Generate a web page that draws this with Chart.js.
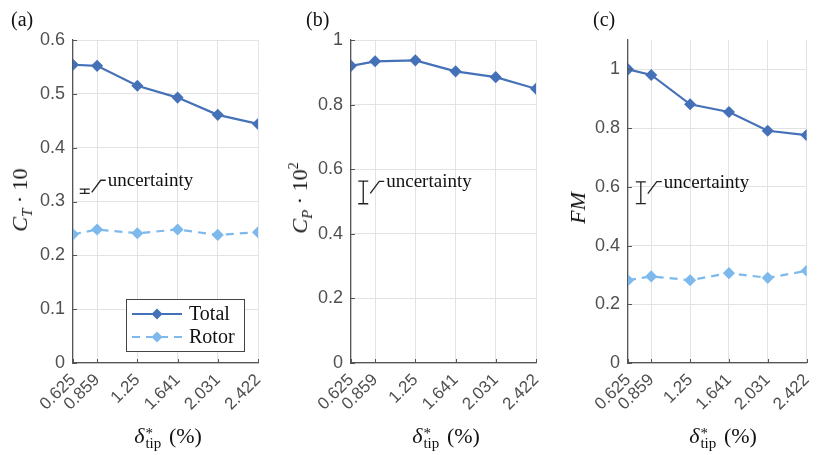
<!DOCTYPE html>
<html>
<head>
<meta charset="utf-8">
<script src="https://cdn.jsdelivr.net/npm/chart.js@4/dist/chart.umd.min.js"></script>
<style>
body { margin: 0; background: #fff; }
#wrap { position: relative; width: 828px; height: 455px; overflow: hidden; }
canvas { position: absolute; top: 0; }
.tex { position: absolute; font-family: "Liberation Serif", "DejaVu Serif", serif; font-size: 20px; color: #111; white-space: nowrap; line-height: 1; }
.ytitle { font-size: 22px; transform: translate(-50%, -50%) rotate(-90deg); }
.xtitle { font-size: 22px; transform: translateX(-50%); }
.ss { display: inline-block; position: relative; width: 19px; height: 10px; }
.ss .up { position: absolute; left: 1px; top: -7px; font-size: 15px; }
.ss .dn { position: absolute; left: 1px; top: 3px; font-size: 15px; }
sub { font-size: 15px; vertical-align: -5px; }
sup { font-size: 14px; vertical-align: 9px; }
</style>
</head>
<body>
<div id="wrap">
  <canvas id="chartA" width="280" height="455" style="left:0px"></canvas>
  <canvas id="chartB" width="280" height="455" style="left:280px"></canvas>
  <canvas id="chartC" width="268" height="455" style="left:560px"></canvas>

  <div class="tex" style="left:11px;top:9px">(a)</div>
  <div class="tex" style="left:306px;top:9px">(b)</div>
  <div class="tex" style="left:593px;top:9px">(c)</div>

  <div class="tex ytitle" style="left:22px;top:200px"><i>C</i><sub><i>T</i></sub> · 10</div>
  <div class="tex ytitle" style="left:301px;top:198px"><i>C</i><sub><i>P</i></sub> · 10<sup>2</sup></div>
  <div class="tex ytitle" style="left:578px;top:208px"><i>FM</i></div>

  <div class="tex xtitle" style="left:168px;top:425px"><i>δ</i><span class="ss"><span class="up">*</span><span class="dn">tip</span></span> (%)</div>
  <div class="tex xtitle" style="left:446px;top:425px"><i>δ</i><span class="ss"><span class="up">*</span><span class="dn">tip</span></span> (%)</div>
  <div class="tex xtitle" style="left:723px;top:425px"><i>δ</i><span class="ss"><span class="up">*</span><span class="dn">tip</span></span> (%)</div>
</div>
<script>
// x positions (tip gap, %) and tick labels
const xLabels = ['0.625', '0.859', '1.25', '1.641', '2.031', '2.422'];
const xVals = xLabels.map(Number);

// values
const ctTotal = [0.554, 0.552, 0.515, 0.493, 0.461, 0.444];
const ctRotor = [0.239, 0.248, 0.241, 0.248, 0.238, 0.243];
const cpTotal = [0.920, 0.934, 0.937, 0.903, 0.885, 0.849];
const fmTotal = [1.000, 0.981, 0.881, 0.855, 0.791, 0.776];
const fmRotor = [0.282, 0.295, 0.282, 0.306, 0.290, 0.314];

const ctTicks = [0, 0.1, 0.2, 0.3, 0.4, 0.5, 0.6];
const cpTicks = [0, 0.2, 0.4, 0.6, 0.8, 1];
const fmTicks = [0, 0.2, 0.4, 0.6, 0.8, 1];

// uncertainty bars: [x, centre, half height]
const ctUnc = [0.739, 0.319, 0.004];
const cpUnc = [0.744, 0.528, 0.035];
const fmUnc = [0.754, 0.580, 0.037];
const uncText = 'uncertainty';

const seriesNames = ['Total', 'Rotor'];
const totalColor = '#4571b8';
const rotorColor = '#7db9ec';

const pts = ys => ys.map((y, i) => ({ x: xVals[i], y: y }));

function totalSet(ys) {
    return {
        label: seriesNames[0], data: pts(ys),
        borderColor: totalColor, backgroundColor: totalColor,
        borderWidth: 2.2, pointStyle: 'rectRot', pointRadius: 4.5, pointHoverRadius: 4.5
    };
}
function rotorSet(ys) {
    return {
        label: seriesNames[1], data: pts(ys),
        borderColor: rotorColor, backgroundColor: rotorColor,
        borderWidth: 2.2, borderDash: [8, 6], pointStyle: 'rectRot', pointRadius: 4.5, pointHoverRadius: 4.5
    };
}

// short inward tick marks, matlab style
const innerTicks = {
    id: 'innerTicks',
    afterDraw(chart) {
        const a = chart.chartArea, c = chart.ctx;
        c.save();
        c.strokeStyle = '#555';
        c.lineWidth = 1;
        c.beginPath();
        chart.scales.x.ticks.forEach(t => {
            const x = Math.round(chart.scales.x.getPixelForValue(t.value)) + 0.5;
            c.moveTo(x, a.bottom); c.lineTo(x, a.bottom - 4);
        });
        chart.scales.y.ticks.forEach(t => {
            const y = Math.round(chart.scales.y.getPixelForValue(t.value)) + 0.5;
            c.moveTo(a.left, y); c.lineTo(a.left + 4, y);
        });
        c.stroke();
        c.restore();
    }
};

// error bar glyph with its leader line and label
const uncPlugin = {
    id: 'unc',
    afterDatasetsDraw(chart, args, opts) {
        if (!opts.bar) return;
        const [ux, uy, uh] = opts.bar;
        const xs = chart.scales.x, ys = chart.scales.y;
        const px = xs.getPixelForValue(ux), py = ys.getPixelForValue(uy);
        const top = ys.getPixelForValue(uy + uh), bot = ys.getPixelForValue(uy - uh);
        const c = chart.ctx;
        c.save();
        c.strokeStyle = '#222';
        c.lineWidth = 1.3;
        c.beginPath();
        c.moveTo(px, top); c.lineTo(px, bot);
        c.moveTo(px - 5, top); c.lineTo(px + 5, top);
        c.moveTo(px - 5, bot); c.lineTo(px + 5, bot);
        c.moveTo(px + 7, py + 1); c.lineTo(px + 16, py - 11); c.lineTo(px + 21, py - 11);
        c.stroke();
        c.fillStyle = '#111';
        c.font = '19px "Liberation Serif", serif';
        c.textBaseline = 'alphabetic';
        c.fillText(uncText, px + 23, py - 5);
        c.restore();
    }
};

// boxed legend in the lower right of the plot area
const boxLegend = {
    id: 'boxLegend',
    afterDatasetsDraw(chart, args, opts) {
        if (!opts.show) return;
        const a = chart.chartArea, c = chart.ctx;
        const w = 118, h = 52;
        const x0 = a.right - 14 - w, y0 = a.bottom - 12 - h;
        c.save();
        c.fillStyle = '#fff';
        c.fillRect(x0, y0, w, h);
        c.strokeStyle = '#444';
        c.lineWidth = 1;
        c.strokeRect(x0 + 0.5, y0 + 0.5, w, h);
        chart.data.datasets.forEach((ds, i) => {
            const y = y0 + 15 + i * 23;
            c.strokeStyle = ds.borderColor;
            c.lineWidth = ds.borderWidth;
            c.setLineDash(ds.borderDash || []);
            c.beginPath();
            c.moveTo(x0 + 6, y); c.lineTo(x0 + 56, y);
            c.stroke();
            c.setLineDash([]);
            c.fillStyle = ds.backgroundColor;
            c.beginPath();
            c.moveTo(x0 + 31, y - 5.5); c.lineTo(x0 + 36.5, y); c.lineTo(x0 + 31, y + 5.5); c.lineTo(x0 + 25.5, y);
            c.closePath();
            c.fill();
            c.fillStyle = '#111';
            c.font = '20px "Liberation Serif", serif';
            c.textBaseline = 'middle';
            c.fillText(ds.label, x0 + 63, y + 1);
        });
        c.restore();
    }
};

function makePanel(id, datasets, yMax, yTicks, unc, padRight, yWidth, legend) {
    return new Chart(document.getElementById(id).getContext('2d'), {
        type: 'line',
        data: { datasets: datasets },
        plugins: [innerTicks, uncPlugin, boxLegend],
        options: {
            responsive: false,
            animation: false,
            events: [],
            layout: { padding: { top: 40, right: padRight, left: 0, bottom: 0 } },
            plugins: {
                legend: { display: false },
                tooltip: { enabled: false },
                unc: { bar: unc },
                boxLegend: { show: legend }
            },
            scales: {
                x: {
                    type: 'linear', min: xVals[0], max: xVals[xVals.length - 1],
                    afterBuildTicks: s => { s.ticks = xVals.map(v => ({ value: v })); },
                    afterFit: s => { s.height = 92; },
                    grid: { color: '#e3e3e3', drawTicks: false },
                    border: { color: '#555', width: 1.2 },
                    ticks: {
                        minRotation: 45, maxRotation: 45, padding: 7,
                        color: '#505050', font: { family: 'Liberation Sans', size: 17 },
                        callback: v => xLabels[xVals.indexOf(v)]
                    }
                },
                y: {
                    min: 0, max: yMax,
                    afterBuildTicks: s => { s.ticks = yTicks.map(v => ({ value: v })); },
                    afterFit: s => { s.width = yWidth; },
                    grid: { color: '#e3e3e3', drawTicks: false },
                    border: { color: '#555', width: 1.2 },
                    ticks: {
                        padding: 8, color: '#505050', font: { family: 'Liberation Sans', size: 18 },
                        callback: v => String(+v.toFixed(2))
                    }
                }
            }
        }
    });
}

makePanel('chartA', [totalSet(ctTotal), rotorSet(ctRotor)], 0.6, ctTicks, ctUnc, 22, 73, true);
makePanel('chartB', [totalSet(cpTotal)], 1, cpTicks, cpUnc, 24, 71, false);
makePanel('chartC', [totalSet(fmTotal), rotorSet(fmRotor)], 1.1, fmTicks, fmUnc, 14, 68, false);
</script>
</body>
</html>
